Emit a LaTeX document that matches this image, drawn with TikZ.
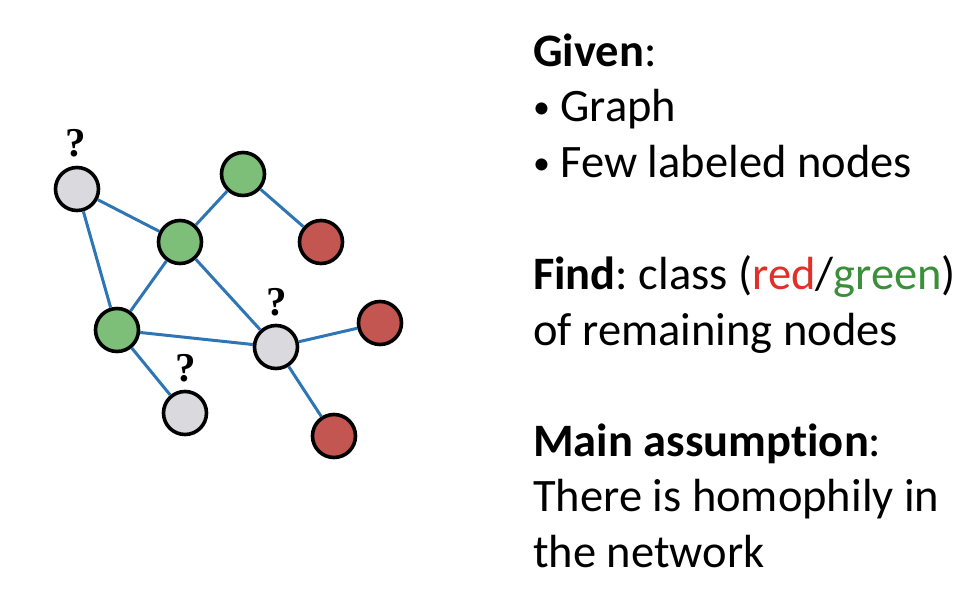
\documentclass[tikz,border=0pt]{standalone}
\usepackage{fontspec}
\setmainfont[Ligatures=NoCommon]{Carlito}
\newfontfamily\qfont{Liberation Serif}
\frenchspacing
\newcommand{\mybul}{{\fontsize{34}{40}\selectfont\raisebox{2.5pt}{•}}}
\definecolor{edgeblue}{RGB}{46,117,182}
\definecolor{ngray}{RGB}{218,218,222}
\definecolor{ngreen}{RGB}{125,190,121}
\definecolor{nred}{RGB}{196,86,82}
\definecolor{txtred}{RGB}{224,48,42}
\definecolor{txtgreen}{RGB}{58,143,58}
\tikzset{
  gnode/.style={circle, draw=black, line width=3.6pt, minimum size=43pt, inner sep=0pt},
  unk/.style={gnode, fill=ngray},
  grn/.style={gnode, fill=ngreen},
  rd/.style={gnode, fill=nred},
  qmark/.style={font=\qfont\bfseries\fontsize{41}{44}\selectfont, inner sep=0pt},
  link/.style={draw=edgeblue, line width=3pt},
  txt/.style={anchor=base west, inner sep=0pt, font=\fontsize{46.5}{56}\selectfont}
}
\begin{document}
\begin{tikzpicture}[x=1pt,y=-1pt]
\useasboundingbox (0,0) rectangle (972,608);
% nodes
\node[unk] (g1) at (77,189) {};
\node[grn] (t1) at (243,174) {};
\node[grn] (m1) at (180,242) {};
\node[rd]  (r1) at (321,242) {};
\node[grn] (l1) at (117,330) {};
\node[unk] (g2) at (276,347) {};
\node[rd]  (r2) at (380,323) {};
\node[unk] (g3) at (185,413) {};
\node[rd]  (r3) at (334,436) {};
% question marks
\node[qmark] (q1) at (76,143) {?};
\node[qmark] (q2) at (277,302) {?};
\node[qmark] (q3) at (186,368) {?};
% edges
\draw[link] (g1) -- (m1);
\draw[link] (g1) -- (l1);
\draw[link] (m1) -- (t1);
\draw[link] (t1) -- (r1);
\draw[link] (m1) -- (l1);
\draw[link] (m1) -- (g2);
\draw[link] (l1) -- (g2);
\draw[link] (l1) -- (g3);
\draw[link] (g2) -- (r2);
\draw[link] (g2) -- (r3);
% text
\node[txt] (tg) at (533,66) {\textbf{Given}:};
\node[txt] (tb1) at (533,121) {\mybul\ Graph};
\node[txt] (tb2) at (533,177) {\mybul\ Few labeled nodes};
\node[txt] (tf) at (533,289) {\textbf{Find}: class (\textcolor{txtred}{red}/\textcolor{txtgreen}{green})};
\node[txt] (tf2) at (533,345) {of remaining nodes};
\node[txt] (tm) at (533,456) {\textbf{Main assumption}:};
\node[txt] (tm2) at (533,511) {There is homophily in};
\node[txt] (tm3) at (533,567) {the network};
\end{tikzpicture}
\end{document}
